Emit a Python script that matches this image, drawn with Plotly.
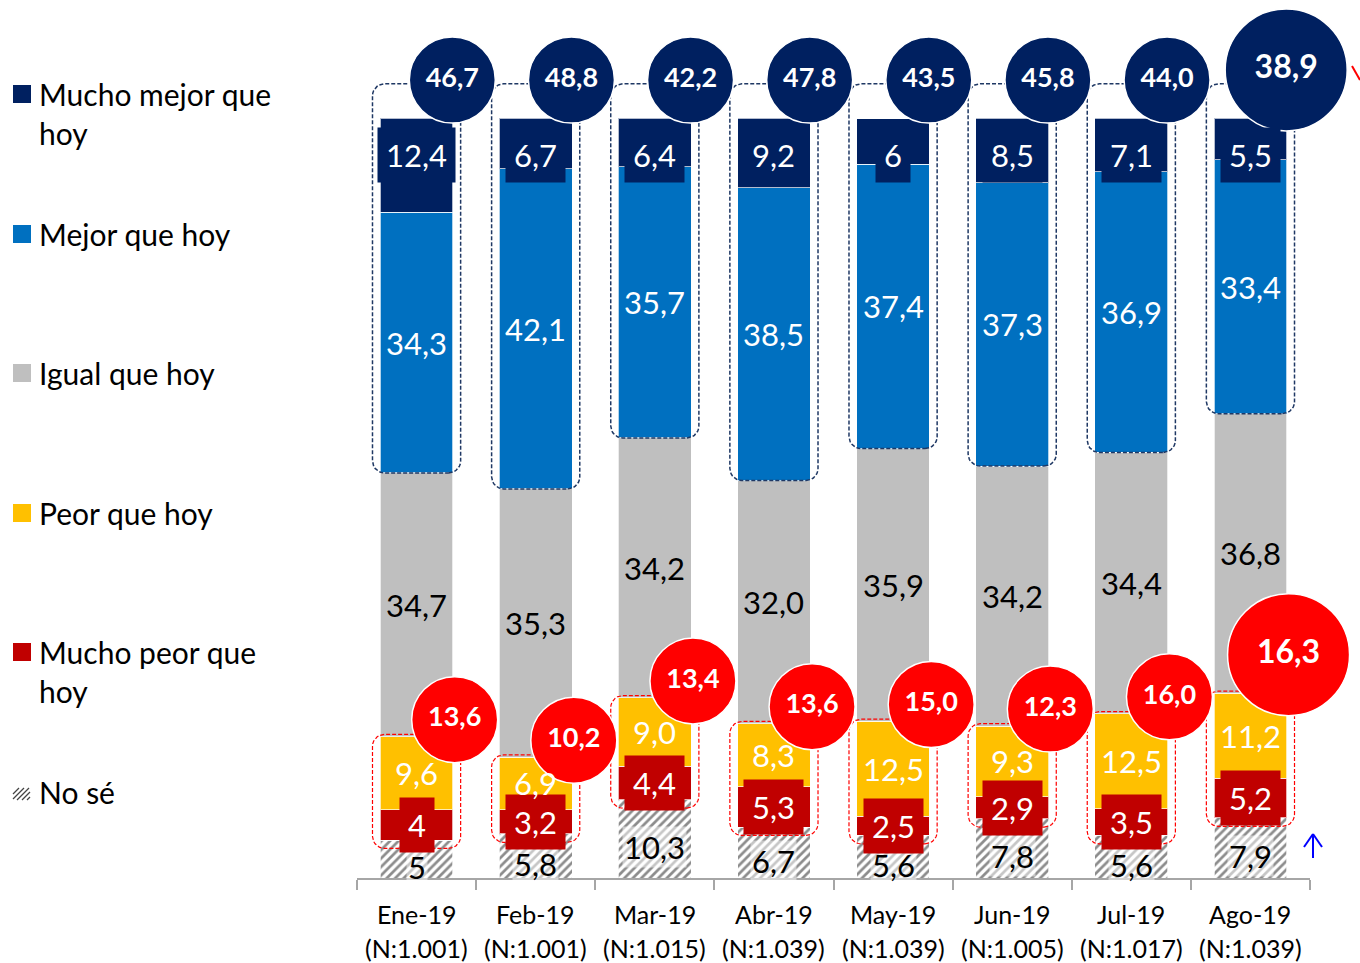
import plotly.graph_objects as go
import numpy as np

# ---------------- data ----------------
categories = ["Ene-19", "Feb-19", "Mar-19", "Abr-19", "May-19", "Jun-19", "Jul-19", "Ago-19"]
sample_sizes = ["(N:1.001)", "(N:1.001)", "(N:1.015)", "(N:1.039)", "(N:1.039)", "(N:1.005)", "(N:1.017)", "(N:1.039)"]

no_se_txt = ["5", "5,8", "10,3", "6,7", "5,6", "7,8", "5,6", "7,9"]
mucho_peor_txt = ["4", "3,2", "4,4", "5,3", "2,5", "2,9", "3,5", "5,2"]
peor_txt = ["9,6", "6,9", "9,0", "8,3", "12,5", "9,3", "12,5", "11,2"]
igual_txt = ["34,7", "35,3", "34,2", "32,0", "35,9", "34,2", "34,4", "36,8"]
mejor_txt = ["34,3", "42,1", "35,7", "38,5", "37,4", "37,3", "36,9", "33,4"]
mucho_mejor_txt = ["12,4", "6,7", "6,4", "9,2", "6", "8,5", "7,1", "5,5"]

total_mejor_txt = ["46,7", "48,8", "42,2", "47,8", "43,5", "45,8", "44,0", "38,9"]
total_peor_txt = ["13,6", "10,2", "13,4", "13,6", "15,0", "12,3", "16,0", "16,3"]

series_names = ["No sé", "Mucho peor que<br>hoy", "Peor que hoy", "Igual que hoy",
                "Mejor que hoy", "Mucho mejor que<br>hoy"]


def num(lst):
    return [float(s.replace(",", ".")) for s in lst]


series_txt = [no_se_txt, mucho_peor_txt, peor_txt, igual_txt, mejor_txt, mucho_mejor_txt]
series_val = [num(s) for s in series_txt]

# ---------------- style ----------------
FONT = "Lato"
colors = ["#FFFFFF", "#C00000", "#FFC000", "#BFBFBF", "#0070C0", "#002060"]
label_colors = ["#000000", "#FFFFFF", "#FFFFFF", "#000000", "#FFFFFF", "#FFFFFF"]
label_bg = ["rgba(255,255,255,0.5)", "#C00000", "rgba(0,0,0,0)", "rgba(0,0,0,0)",
            "rgba(0,0,0,0)", "#002060"]
NAVY = "#002060"
RED = "#FF0000"
BAR_W = 0.61
PX_PER_UNIT = 7.6
L, R, T, B = 357, 50, 0, 85
W, H = 1360, 963
plot_h = H - T - B
plot_w = W - L - R
y_max = plot_h / PX_PER_UNIT
bubble_size = [86, 86, 86, 86, 86, 86, 86, 122]
bubble_font = [27, 27, 27, 27, 27, 27, 27, 32]
LABEL_FS = 31
DASH = "4px,2px"


def pxx(x):
    return (x - L) / plot_w


def pxy(y):
    return (H - B - y) / plot_h


fig = go.Figure()
n = len(categories)
xi = np.arange(n)

# stacked bars
for k, (name, vals) in enumerate(zip(series_names, series_val)):
    marker = dict(color=colors[k], line=dict(color="rgba(255,255,255,0.7)", width=1))
    if k == 0:
        marker["pattern"] = dict(shape="/", fgcolor="#1a1a1a", bgcolor="#FFFFFF",
                                 size=6, solidity=0.45)
    fig.add_trace(go.Bar(x=xi, y=vals, name=name.replace("<br>", " "),
                         width=BAR_W, marker=marker, showlegend=False,
                         hoverinfo="skip"))

cum = np.cumsum(np.array(series_val), axis=0)  # tops of each segment
bottoms = cum - np.array(series_val)


def rounded_rect(x0, x1, y0, y1, rx, ry, npts=8):
    xs, ys = [], []
    t = np.linspace(0, np.pi / 2, npts)
    corners = [
        (x1 - rx, y0 + ry, -np.pi / 2),
        (x1 - rx, y1 - ry, 0.0),
        (x0 + rx, y1 - ry, np.pi / 2),
        (x0 + rx, y0 + ry, np.pi),
    ]
    for cx, cy, a0 in corners:
        a = a0 + t
        xs.extend(cx + rx * np.cos(a))
        ys.extend(cy + ry * np.sin(a))
    xs.append(xs[0])
    ys.append(ys[0])
    return xs, ys


rx = 12 / (plot_w / n)
ry = 12 / PX_PER_UNIT
half = 0.37

# dashed navy boxes (Mejor + Mucho mejor)
for i in range(n):
    xs, ys = rounded_rect(i - half, i + half, bottoms[4][i], 104.5, rx, ry)
    fig.add_trace(go.Scatter(x=xs, y=ys, mode="lines", showlegend=False, hoverinfo="skip",
                             line=dict(color="#1F3864", width=1.5, dash=DASH)))
# dashed red boxes (Peor + Mucho peor)
for i in range(n):
    xs, ys = rounded_rect(i - half, i + half, cum[0][i] - 1.1, cum[2][i] + 0.3, rx, ry)
    fig.add_trace(go.Scatter(x=xs, y=ys, mode="lines", showlegend=False, hoverinfo="skip",
                             line=dict(color=RED, width=1.2, dash=DASH)))

# bubbles
navy_y = [105 + (s - 86) * 0.28 / PX_PER_UNIT for s in bubble_size]
fig.add_trace(go.Scatter(
    x=xi + 0.3, y=navy_y, mode="markers+text", text=total_mejor_txt,
    textposition="middle center",
    textfont=dict(family=FONT, size=bubble_font, color="white", weight="bold"),
    marker=dict(size=bubble_size, color=NAVY, line=dict(color="white", width=1.5), opacity=1),
    showlegend=False, hoverinfo="skip", cliponaxis=False))

red_y = [cum[2][i] + 17 / PX_PER_UNIT + (bubble_size[i] - 86) * 0.6 / PX_PER_UNIT for i in range(n)]
fig.add_trace(go.Scatter(
    x=xi + 0.32, y=red_y, mode="markers+text", text=total_peor_txt,
    textposition="middle center",
    textfont=dict(family=FONT, size=bubble_font, color="white", weight="bold"),
    marker=dict(size=bubble_size, color=RED, line=dict(color="white", width=1.5), opacity=1),
    showlegend=False, hoverinfo="skip", cliponaxis=False))

annotations = []
# segment labels
for k in range(6):
    for i in range(n):
        if k == 5:
            yc = 100 - (155 - 118) / PX_PER_UNIT
        elif k == 0:
            yc = (bottoms[k][i] + cum[k][i]) / 2 - 8 / PX_PER_UNIT
        else:
            yc = (bottoms[k][i] + cum[k][i]) / 2
        annotations.append(dict(
            x=i, y=yc, xref="x", yref="y", text=series_txt[k][i], showarrow=False,
            font=dict(family=FONT, size=LABEL_FS, color=label_colors[k]),
            bgcolor=label_bg[k], borderpad=8 if k in (1, 5) else 1,
            xanchor="center", yanchor="middle"))

# category labels
for i in range(n):
    annotations.append(dict(x=i, y=pxy(914), xref="x", yref="paper", text=categories[i],
                            showarrow=False, font=dict(family=FONT, size=25, color="black"),
                            yanchor="middle"))
    annotations.append(dict(x=i, y=pxy(948), xref="x", yref="paper", text=sample_sizes[i],
                            showarrow=False, font=dict(family=FONT, size=25, color="black"),
                            yanchor="middle"))

# manual legend (top to bottom)
legend_y = [94, 234, 373, 513, 652, 792]
shapes = []
for j, k in enumerate(range(5, -1, -1)):
    yc = legend_y[j]
    lines = series_names[k].split("<br>")
    for li, line in enumerate(lines):
        annotations.append(dict(x=pxx(37), y=pxy(yc + li * 39), xref="paper", yref="paper",
                                text=line, showarrow=False, xanchor="left", yanchor="middle",
                                font=dict(family=FONT, size=30, color="black")))
    if k == 0:
        for off in range(0, 24, 5):
            x0, y0 = 13 + off - 6, yc + 8
            x1, y1 = x0 + 12, yc - 4
            shapes.append(dict(type="line", xref="paper", yref="paper",
                               x0=pxx(max(13, x0)), y0=pxy(y0 - (max(13, x0) - x0)),
                               x1=pxx(min(30, x1)), y1=pxy(y1 + (x1 - min(30, x1))),
                               line=dict(color="#444444", width=1.3)))
    else:
        shapes.append(dict(type="rect", xref="paper", yref="paper",
                           x0=pxx(13), x1=pxx(31), y0=pxy(yc - 9), y1=pxy(yc + 9),
                           fillcolor=colors[k], line=dict(width=0)))

# blue arrow (decoration)
ax, ay0, ay1 = 1313, 858, 834
shapes.append(dict(type="line", xref="paper", yref="paper", x0=pxx(ax), x1=pxx(ax),
                   y0=pxy(ay0), y1=pxy(ay1), line=dict(color="#0000FF", width=2)))
shapes.append(dict(type="line", xref="paper", yref="paper", x0=pxx(ax - 9), x1=pxx(ax),
                   y0=pxy(ay1 + 13), y1=pxy(ay1), line=dict(color="#0000FF", width=2)))
shapes.append(dict(type="line", xref="paper", yref="paper", x0=pxx(ax + 9), x1=pxx(ax),
                   y0=pxy(ay1 + 13), y1=pxy(ay1), line=dict(color="#0000FF", width=2)))
# red tick mark at right edge (partially outside)
shapes.append(dict(type="line", xref="paper", yref="paper", x0=pxx(1352), x1=pxx(1360),
                   y0=pxy(66), y1=pxy(80), line=dict(color=RED, width=2)))

boundaries = [i - 0.5 for i in range(n + 1)]
fig.update_layout(
    width=W, height=H, margin=dict(l=L, r=R, t=T, b=B),
    barmode="stack",
    plot_bgcolor="white", paper_bgcolor="white",
    font=dict(family=FONT),
    xaxis=dict(type="linear", range=[-0.5, n - 0.5], showline=True, linecolor="#A6A6A6",
               linewidth=2, ticks="outside", tickvals=boundaries, ticklen=10,
               tickcolor="#A6A6A6", tickwidth=2, showticklabels=False, showgrid=False,
               zeroline=False, fixedrange=True),
    yaxis=dict(range=[0, y_max], visible=False, fixedrange=True),
    annotations=annotations, shapes=shapes, showlegend=False,
)

fig.write_html("out.html", config={"displayModeBar": False},
               post_script="document.body.style.margin='0';document.body.style.overflow='hidden';")
